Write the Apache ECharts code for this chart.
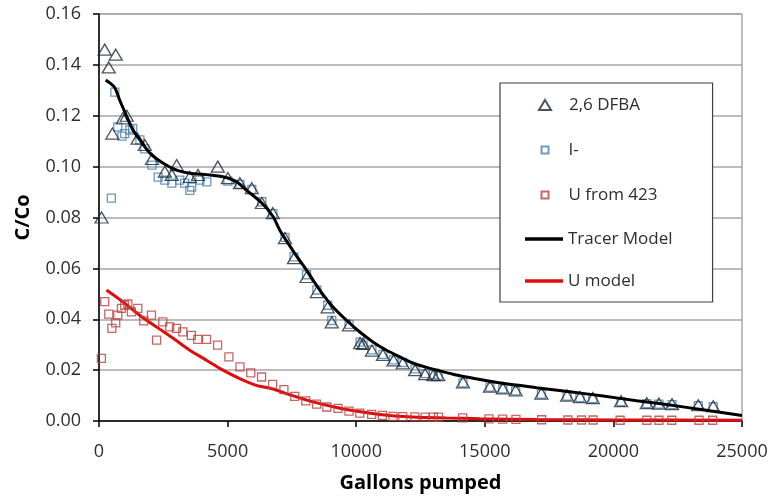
<!DOCTYPE html>
<html>
<head>
<meta charset="utf-8">
<script src="https://cdn.jsdelivr.net/npm/echarts@6/dist/echarts.min.js"></script>
<style>
  html, body { margin: 0; padding: 0; background: #fff; }
  #chart { width: 773px; height: 499px; }
</style>
</head>
<body>
<div id="chart"></div>
<script>
// Breakthrough curves: normalised concentration vs. gallons pumped
const xTicks = [0, 5000, 10000, 15000, 20000, 25000];
const yTicks = [0, 0.02, 0.04, 0.06, 0.08, 0.10, 0.12, 0.14, 0.16];

// 2,6 DFBA tracer observations [gallons, C/Co]
const dfba = [
  [100,0.080],[222,0.146],[380,0.139],[520,0.113],[650,0.144],[925,0.119],[1080,0.120],
  [1500,0.111],[1780,0.1085],[2060,0.103],[2560,0.098],[2830,0.0967],[3020,0.1006],
  [3530,0.096],[3850,0.0967],[4620,0.100],[5010,0.0955],[5480,0.0935],[5940,0.0915],
  [6330,0.0857],[6760,0.0817],[7230,0.0719],[7580,0.064],[8070,0.0566],[8470,0.0507],
  [8890,0.0447],[9050,0.0388],[9720,0.0376],[10150,0.0306],[10270,0.0303],[10610,0.0277],
  [11040,0.026],[11450,0.0238],[11810,0.0227],[12290,0.020],[12680,0.0184],[13000,0.018],
  [13190,0.018],[14150,0.0152],[15200,0.0135],[15700,0.0128],[16200,0.012],[17200,0.0108],
  [18200,0.010],[18700,0.0094],[19200,0.009],[20300,0.0078],[21300,0.007],[21770,0.0068],
  [22280,0.0066],[23300,0.0062],[23880,0.0058]
];

// Iodide observations
const iodide = [
  [480,0.0876],[615,0.1293],[730,0.1156],[890,0.112],[1000,0.113],[1200,0.1144],[1310,0.115],
  [1590,0.1105],[1780,0.107],[2060,0.1006],[2300,0.0959],[2560,0.0947],[2830,0.0935],
  [3140,0.0947],[3330,0.0935],[3530,0.0907],[3600,0.092],[3920,0.0947],[4190,0.094],
  [5010,0.0943],[5480,0.093],[5940,0.0910],[6330,0.0862],[6760,0.0815],[7230,0.0722],
  [7580,0.0645],[8070,0.0575],[8470,0.0515],[8890,0.0455],[9050,0.0395],[9720,0.0380],
  [10150,0.031],[10270,0.0298],[10610,0.0280],[11040,0.0262],[11450,0.0240],[11810,0.0230],
  [12290,0.0205],[12680,0.0186],[13000,0.0182],[13190,0.0178],[14150,0.0150],[15200,0.0133],
  [15700,0.0126],[16200,0.0118],[17200,0.0106],[18200,0.0098],[18700,0.0092],[19200,0.0088],
  [20300,0.0076],[21300,0.0068],[21770,0.0066],[22280,0.0064],[23300,0.0060],[23880,0.0056]
];

// Uranium from well 423
const uranium = [
  [93,0.0246],[222,0.0469],[380,0.042],[500,0.0364],[650,0.0386],[730,0.0416],[870,0.0443],
  [1000,0.0455],[1120,0.046],[1260,0.0429],[1510,0.0443],[1740,0.0394],[2040,0.0416],
  [2240,0.0318],[2480,0.039],[2750,0.037],[3010,0.0364],[3260,0.035],[3590,0.0337],
  [3840,0.0321],[4180,0.0321],[4610,0.0298],[5050,0.0252],[5480,0.0213],[5900,0.0189],
  [6320,0.0173],[6750,0.0144],[7190,0.0123],[7610,0.0097],[8040,0.0079],[8460,0.0066],
  [8860,0.0055],[9290,0.005],[9720,0.0039],[10140,0.0031],[10600,0.0026],[11020,0.0022],
  [11430,0.0018],[11810,0.0017],[12280,0.0016],[12680,0.0015],[13000,0.0015],[13200,0.0015],
  [14140,0.0012],[15160,0.0008],[15690,0.0007],[16210,0.0006],[17210,0.0005],[18230,0.0004],
  [18760,0.0004],[19210,0.0004],[20260,0.0003],[21300,0.0003],[21770,0.0003],[22270,0.0003],
  [23330,0.0003],[23860,0.0003]
];

// Fitted tracer transport model
const tracerModel = [
  [260,0.134],[420,0.1329],[615,0.131],[810,0.126],[1070,0.120],[1320,0.1144],[1590,0.1105],
  [1970,0.1054],[2480,0.1014],[3020,0.0986],[3530,0.0974],[4310,0.0967],[4820,0.096],
  [5340,0.0941],[5730,0.0908],[6330,0.0857],[6760,0.0805],[7030,0.075],[7540,0.067],
  [8070,0.0593],[8590,0.0514],[9090,0.0449],[9620,0.0396],[10140,0.035],[10650,0.0311],
  [11180,0.0278],[11700,0.0252],[12200,0.0228],[12730,0.0211],[13250,0.0197],[13760,0.0184],
  [14290,0.0173],[14810,0.0163],[15700,0.0148],[17010,0.0131],[18310,0.0115],[19600,0.0098],
  [20900,0.0080],[22200,0.0063],[23480,0.0044],[25000,0.0022]
];

// Fitted uranium model
const uModel = [
  [290,0.0515],[920,0.0469],[1580,0.0416],[2230,0.037],[2870,0.0326],[3530,0.0278],
  [4180,0.0239],[4820,0.020],[5470,0.0167],[6120,0.014],[6760,0.0126],[7420,0.0103],
  [8320,0.0075],[9620,0.0045],[10920,0.0026],[12200,0.0016],[13510,0.0012],[14810,0.0009],
  [17000,0.0006],[20000,0.0004],[25000,0.0003]
];

const FONT = '"Open Sans", "Liberation Sans", sans-serif';
const TEXT_COLOR = '#2e2e2e';
const legendText = (padLeft) => ({
  fontFamily: FONT, fontSize: 17, color: TEXT_COLOR, lineHeight: 18, padding: [0, 0, 0, padLeft]
});

const chart = echarts.init(document.getElementById('chart'), null, { renderer: 'canvas' });
chart.setOption({
  backgroundColor: '#ffffff',
  animation: false,
  grid: {
    left: 99, right: 31, top: 14, bottom: 78,
    show: true, borderColor: '#7f7f7f', borderWidth: 1, backgroundColor: 'transparent'
  },
  xAxis: {
    type: 'value',
    min: xTicks[0], max: xTicks[xTicks.length - 1], interval: 5000,
    name: 'Gallons pumped', nameLocation: 'middle', nameGap: 52,
    nameTextStyle: { fontFamily: FONT, fontWeight: 'bold', fontSize: 20, color: '#000' },
    axisLine: { onZero: false, lineStyle: { color: '#000', width: 1.5 } },
    axisTick: { show: true, inside: false, length: 6, lineStyle: { color: '#000', width: 1.5 } },
    axisLabel: {
      fontFamily: FONT, fontSize: 18, color: TEXT_COLOR, margin: 22,
      formatter: v => String(v)
    },
    splitLine: { show: false }
  },
  yAxis: {
    type: 'value',
    min: yTicks[0], max: yTicks[yTicks.length - 1], interval: 0.02,
    name: 'C/Co', nameLocation: 'middle', nameGap: 66, nameRotate: 90,
    nameTextStyle: { fontFamily: FONT, fontWeight: 'bold', fontSize: 20, color: '#000' },
    axisLine: { onZero: false, lineStyle: { color: '#000', width: 1.5 } },
    axisTick: { show: true, inside: false, length: 6, lineStyle: { color: '#000', width: 1.5 } },
    axisLabel: {
      fontFamily: FONT, fontSize: 18, color: TEXT_COLOR, margin: 18,
      formatter: v => v.toFixed(2)
    },
    splitLine: { show: true, lineStyle: { color: '#a6a6a6', width: 1.5 } }
  },
  legend: [
    // framed box holding the two model lines
    {
      orient: 'vertical', left: 500, top: 83,
      padding: [147, 40, 12, 25],
      itemGap: 24, itemWidth: 38, itemHeight: 3.5,
      borderColor: '#404040', borderWidth: 1.2, backgroundColor: '#fff',
      textStyle: legendText(0),
      data: [{ name: 'Tracer Model', icon: 'rect' }, { name: 'U model', icon: 'rect' }]
    },
    // triangle entry
    {
      orient: 'vertical', left: 538, top: 96, padding: 0,
      itemWidth: 12, itemHeight: 10,
      textStyle: legendText(13),
      data: [{ name: '2,6 DFBA', icon: 'triangle' }]
    },
    // square entries
    {
      orient: 'vertical', left: 540.5, top: 141, padding: 0,
      itemGap: 27, itemWidth: 7, itemHeight: 7,
      textStyle: legendText(15),
      data: [{ name: 'I-', icon: 'rect' }, { name: 'U from 423', icon: 'rect' }]
    }
  ],
  series: [
    {
      name: 'U model', type: 'line', data: uModel, smooth: 0.3, showSymbol: false,
      symbol: 'none', lineStyle: { color: '#e00c0c', width: 3 }, itemStyle: { color: '#e00c0c' }, z: 3
    },
    {
      name: 'U from 423', type: 'scatter', data: uranium, symbol: 'rect', symbolSize: 8,
      itemStyle: { color: 'rgba(255,255,255,0)', borderColor: '#b8403d', borderWidth: 1.3 }, z: 4
    },
    {
      name: 'I-', type: 'scatter', data: iodide, symbol: 'rect', symbolSize: 8,
      itemStyle: { color: 'rgba(255,255,255,0)', borderColor: '#4a7fb0', borderWidth: 1.3 }, z: 4
    },
    {
      name: '2,6 DFBA', type: 'scatter', data: dfba, symbol: 'triangle', symbolSize: [13, 11],
      itemStyle: { color: 'rgba(255,255,255,0)', borderColor: '#1e2a38', borderWidth: 1.3 }, z: 5
    },
    {
      name: 'Tracer Model', type: 'line', data: tracerModel, smooth: 0.3, showSymbol: false,
      symbol: 'none', lineStyle: { color: '#000', width: 3 }, itemStyle: { color: '#000' }, z: 6
    }
  ]
});
</script>
</body>
</html>
